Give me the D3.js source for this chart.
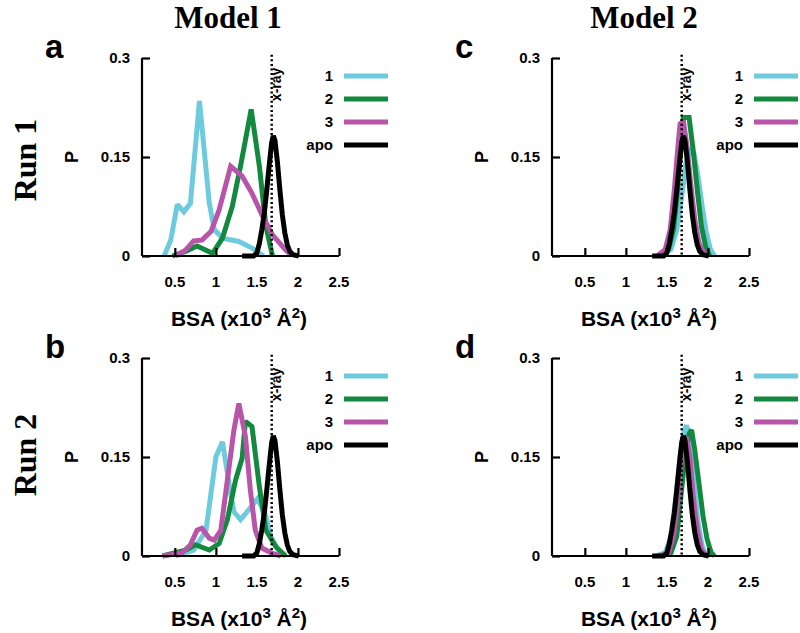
<!DOCTYPE html>
<html>
<head>
<meta charset="utf-8">
<script src="https://cdn.jsdelivr.net/npm/d3@7/dist/d3.min.js"></script>
<style>
  html, body { margin: 0; padding: 0; background: #fff; }
  svg { display: block; }
  text { font-family: "Liberation Sans", Arial, sans-serif; font-weight: bold; fill: #000; }
  .serif { font-family: "Liberation Serif", "Times New Roman", serif; }
</style>
</head>
<body>
<script>
// ---------------- DATA ----------------
const xTicks = [0.5, 1, 1.5, 2, 2.5];
const xTickLabels = ["0.5", "1", "1.5", "2", "2.5"];
const yTicks = [0, 0.15, 0.3];
const yTickLabels = ["0", "0.15", "0.3"];
const seriesNames = ["1", "2", "3", "apo"];
const modelTitles = ["Model 1", "Model 2"];
const runTitles = ["Run 1", "Run 2"];
const panelLetters = ["a", "b", "c", "d"];
const xrayValue = 1.68;

// apo reference distribution (same in every panel)
const apo = [[1.32,0],[1.46,0],[1.50,0.005],[1.53,0.019],[1.56,0.04],[1.59,0.065],[1.62,0.1],[1.65,0.138],[1.68,0.172],[1.70,0.182],[1.72,0.175],[1.75,0.142],[1.78,0.1],[1.81,0.062],[1.84,0.035],[1.87,0.017],[1.90,0.007],[1.94,0.002],[2.01,0]];

// panel a : Model 1, Run 1
const pa1 = [[0.37,0],[0.45,0.024],[0.53,0.078],[0.61,0.067],[0.69,0.08],[0.80,0.235],[0.92,0.08],[0.98,0.04],[1.08,0.027],[1.28,0.022],[1.44,0.012],[1.58,0]];
const pa2 = [[0.47,0],[0.63,0.007],[0.77,0.015],[0.96,0.004],[1.08,0.027],[1.20,0.075],[1.30,0.136],[1.43,0.222],[1.53,0.136],[1.61,0.045],[1.69,0]];
const pa3 = [[0.51,0],[0.63,0.009],[0.73,0.023],[0.83,0.024],[0.94,0.037],[1.04,0.07],[1.18,0.136],[1.32,0.121],[1.44,0.095],[1.57,0.06],[1.69,0.032],[1.85,0.009],[1.93,0]];

// panel b : Model 1, Run 2
const pb1 = [[0.51,0],[0.73,0.009],[0.88,0.039],[1.00,0.15],[1.08,0.173],[1.18,0.095],[1.22,0.067],[1.30,0.055],[1.40,0.07],[1.51,0.087],[1.61,0.06],[1.67,0.029],[1.77,0.007],[1.85,0]];
const pb2 = [[0.35,0],[0.63,0.009],[0.75,0.017],[0.92,0.009],[1.04,0.019],[1.14,0.055],[1.24,0.115],[1.32,0.148],[1.36,0.204],[1.44,0.196],[1.53,0.105],[1.61,0.039],[1.73,0.014],[1.85,0]];
const pb3 = [[0.35,0],[0.59,0.005],[0.69,0.017],[0.77,0.039],[0.83,0.042],[0.92,0.027],[0.98,0.024],[1.06,0.039],[1.14,0.115],[1.22,0.191],[1.28,0.231],[1.36,0.181],[1.42,0.1],[1.48,0.039],[1.56,0.012],[1.69,0.004],[1.79,0]];

// panel c : Model 2, Run 1
const pc1 = [[1.42,0],[1.55,0.01],[1.62,0.04],[1.68,0.09],[1.73,0.14],[1.78,0.16],[1.83,0.155],[1.88,0.12],[1.93,0.075],[1.98,0.035],[2.03,0.01],[2.08,0]];
const pc2 = [[1.40,0],[1.52,0.01],[1.58,0.04],[1.63,0.1],[1.67,0.17],[1.70,0.21],[1.77,0.21],[1.82,0.16],[1.87,0.1],[1.92,0.045],[1.97,0.015],[2.02,0]];
const pc3 = [[1.38,0],[1.48,0.01],[1.54,0.04],[1.59,0.1],[1.63,0.16],[1.66,0.2],[1.70,0.205],[1.74,0.17],[1.79,0.11],[1.84,0.055],[1.89,0.02],[1.95,0.004],[2.0,0]];

// panel d : Model 2, Run 2
const pd1 = [[1.36,0],[1.48,0.005],[1.55,0.03],[1.61,0.09],[1.66,0.15],[1.71,0.19],[1.74,0.198],[1.78,0.175],[1.83,0.11],[1.88,0.05],[1.93,0.015],[1.98,0]];
const pd2 = [[1.42,0],[1.55,0.005],[1.62,0.03],[1.67,0.09],[1.72,0.15],[1.77,0.185],[1.80,0.191],[1.84,0.16],[1.89,0.11],[1.94,0.06],[1.99,0.025],[2.04,0.005],[2.08,0]];
const pd3 = [[1.40,0],[1.52,0.005],[1.58,0.03],[1.63,0.08],[1.67,0.14],[1.71,0.175],[1.74,0.18],[1.78,0.15],[1.82,0.09],[1.87,0.04],[1.92,0.01],[1.98,0]];

// ---------------- STYLE / LAYOUT ----------------
const colors = ["#6dcbdd", "#13893f", "#b955a8", "#000000"];
const W = 800, H = 633;
const PW = 197, PH = 198;
const panels = [
  { letter: panelLetters[0], series: [pa1, pa2, pa3, apo], left: 142, top: 58 },
  { letter: panelLetters[1], series: [pb1, pb2, pb3, apo], left: 142, top: 358 },
  { letter: panelLetters[2], series: [pc1, pc2, pc3, apo], left: 552, top: 58 },
  { letter: panelLetters[3], series: [pd1, pd2, pd3, apo], left: 552, top: 358 }
];

const svg = d3.select("body").append("svg").attr("width", W).attr("height", H);

const x = d3.scaleLinear().domain([0.1, 2.5]).range([0, PW]);
const y = d3.scaleLinear().domain([0, 0.3]).range([PH, 0]);
const line = d3.line().x(d => x(d[0])).y(d => y(d[1]));

// column / row titles
[228, 644].forEach((cx, i) => {
  svg.append("text").attr("class", "serif").attr("x", cx).attr("y", 28)
    .attr("text-anchor", "middle").style("font-size", "31px").text(modelTitles[i]);
});
[160, 455].forEach((cy, i) => {
  svg.append("text").attr("class", "serif")
    .attr("transform", `translate(36,${cy}) rotate(-90)`)
    .attr("text-anchor", "middle").style("font-size", "32px").text(runTitles[i]);
});

panels.forEach(p => {
  const g = svg.append("g").attr("transform", `translate(${p.left},${p.top})`);

  // panel letter
  svg.append("text").attr("x", p.left - 97).attr("y", p.top)
    .style("font-size", "33px").text(p.letter);

  // data lines
  p.series.forEach((s, i) => {
    g.append("path").datum(s).attr("d", line)
      .attr("fill", "none").attr("stroke", colors[i]).attr("stroke-width", 5)
      .attr("stroke-linejoin", "miter").attr("stroke-miterlimit", 2);
  });

  // x-ray dotted line
  g.append("line")
    .attr("x1", x(xrayValue)).attr("x2", x(xrayValue))
    .attr("y1", y(0.305)).attr("y2", y(0))
    .attr("stroke", "#000").attr("stroke-width", 2.5).attr("stroke-dasharray", "2,2.6");
  g.append("text")
    .attr("transform", `translate(${x(xrayValue) + 9},${y(0.26)}) rotate(-90)`)
    .attr("text-anchor", "middle").style("font-size", "14px").text("x-ray");

  // axes
  const xAxis = d3.axisBottom(x).tickValues(xTicks).tickSize(-8).tickPadding(0).tickFormat(() => "");
  const gx = g.append("g").attr("transform", `translate(0,${PH})`).call(xAxis);
  gx.select(".domain").attr("d", `M0,0H${PW}`).attr("stroke-width", 2.2);
  gx.selectAll(".tick line").attr("stroke-width", 2.2);
  xTicks.forEach((t, i) => {
    g.append("text").attr("x", x(t)).attr("y", PH + 31).attr("text-anchor", "middle")
      .style("font-size", "15px").text(xTickLabels[i]);
  });

  const yAxis = d3.axisLeft(y).tickValues(yTicks).tickSize(-8).tickFormat(() => "");
  const gy = g.append("g").call(yAxis);
  gy.select(".domain").attr("d", `M0,${PH}V0`).attr("stroke-width", 2.2);
  gy.selectAll(".tick line").attr("stroke-width", 2.2);
  yTicks.forEach((t, i) => {
    g.append("text").attr("x", -12).attr("y", y(t) + 5).attr("text-anchor", "end")
      .style("font-size", "15px").text(yTickLabels[i]);
  });

  // axis titles
  g.append("text").attr("transform", `translate(-64,${PH / 2}) rotate(-90)`)
    .attr("text-anchor", "middle").style("font-size", "18px").text("P");

  const xl = g.append("text").attr("x", 97).attr("y", PH + 70)
    .attr("text-anchor", "middle").style("font-size", "21px");
  xl.append("tspan").text("BSA (x10");
  xl.append("tspan").attr("dy", -8).style("font-size", "15px").text("3");
  xl.append("tspan").attr("dy", 8).text(" Å");
  xl.append("tspan").attr("dy", -8).style("font-size", "15px").text("2");
  xl.append("tspan").attr("dy", 8).text(")");

  // legend
  seriesNames.forEach((n, i) => {
    const ly = 18 + i * 23;
    g.append("text").attr("x", 191).attr("y", ly + 5).attr("text-anchor", "end")
      .style("font-size", "15px").text(n);
    g.append("line").attr("x1", 202).attr("x2", 246).attr("y1", ly).attr("y2", ly)
      .attr("stroke", colors[i]).attr("stroke-width", 5);
  });
});
</script>
</body>
</html>
